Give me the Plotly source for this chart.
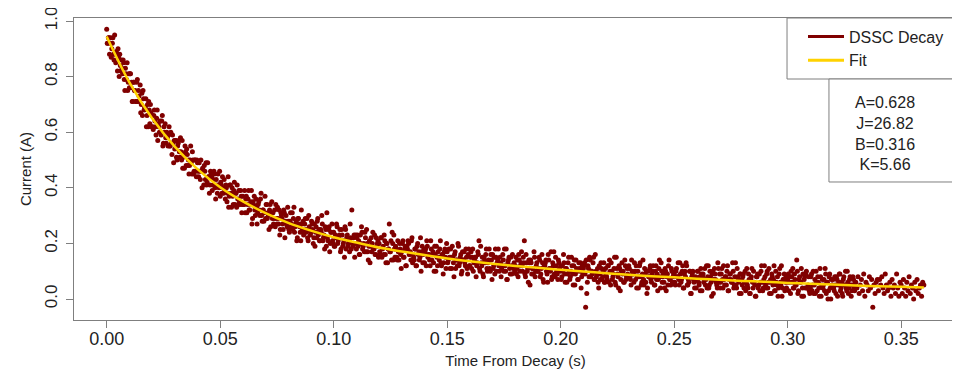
import plotly.graph_objects as go

# ---------------- data ----------------
sample_interval_s = 0.0005  # spacing of the samples on the main grid
half_step_s = 0.00025       # offset of the interleaved samples

# measured DSSC current (A) on the main grid, one row per 10 ms (0 ... 0.36 s)
current_a_grid = [
    .97, .92, .94, .92, .87, .92, .88, .95, .85, .88, .90, .80, .84, .86, .81, .85, .75, .81, .85, .78,
    .76, .81, .78, .71, .78, .75, .71, .79, .75, .71, .67, .74, .75, .68, .69, .62, .70, .71, .63, .67,
    .66, .61, .68, .62, .65, .57, .62, .64, .59, .66, .56, .60, .58, .60, .55, .62, .55, .56, .59, .49,
    .54, .57, .50, .56, .53, .58, .50, .47, .52, .55, .48, .52, .50, .48, .55, .45, .50, .46, .50, .44,
    .49, .44, .46, .50, .40, .46, .48, .43, .41, .49, .44, .41, .45, .39, .43, .45, .36, .41, .45, .40,
    .37, .41, .44, .38, .39, .41, .35, .44, .37, .41, .33, .37, .39, .34, .38, .41, .34, .35, .39, .31,
    .37, .34, .31, .37, .34, .39, .32, .35, .27, .35, .37, .30, .33, .31, .35, .30, .38, .28, .32, .31,
    .29, .34, .31, .25, .34, .31, .29, .27, .32, .34, .27, .29, .32, .25, .30, .27, .32, .22, .30, .26,
    .28, .24, .31, .27, .25, .33, .26, .28, .22, .29, .26, .21, .27, .28, .24, .29, .24, .22, .30, .25,
    .24, .27, .20, .27, .24, .22, .29, .25, .21, .24, .27, .22, .18, .25, .31, .21, .26, .20, .24, .21,
    .24, .19, .22, .26, .21, .23, .17, .25, .19, .21, .26, .18, .23, .20, .17, .22, .32, .19, .23, .20,
    .18, .23, .21, .16, .20, .24, .19, .17, .22, .25, .17, .19, .13, .22, .20, .18, .23, .16, .19, .21,
    .20, .16, .22, .18, .16, .21, .13, .20, .18, .27, .17, .14, .20, .23, .15, .18, .14, .17, .20, .16,
    .17, .21, .15, .19, .12, .18, .20, .16, .14, .22, .16, .14, .18, .12, .20, .17, .15, .10, .19, .16,
    .13, .18, .21, .15, .16, .12, .18, .16, .13, .19, .10, .15, .17, .14, .21, .12, .16, .13, .18, .11,
    .17, .14, .15, .18, .11, .15, .08, .17, .14, .12, .19, .13, .16, .10, .14, .17, .12, .15, .09, .18,
    .12, .17, .15, .10, .14, .15, .12, .17, .21, .10, .13, .15, .08, .14, .16, .11, .13, .18, .10, .14,
    .16, .12, .09, .15, .13, .18, .10, .13, .11, .16, .10, .12, .18, .07, .14, .11, .15, .09, .12, .13,
    .12, .09, .14, .16, .10, .13, .12, .15, .21, .08, .13, .11, .14, .05, .13, .11, .09, .15, .10, .13,
    .10, .15, .08, .11, .13, .06, .12, .14, .09, .16, .11, .10, .07, .13, .17, .08, .12, .09, .14, .11,
    .12, .08, .10, .13, .06, .11, .09, .15, .07, .10, .12, .05, .14, .09, .11, .07, .13, .10, .04, .12,
    .11, .13, -.03, .02, .12, .08, .14, .10, .09, .15, .07, .10, .09, .06, .12, .07, .11, .08, .13, .06,
    .09, .07, .12, .14, .05, .10, .08, .11, .06, .15, .09, .04, .11, .07, .13, .10, .06, .12, .08, .09,
    .12, .08, .05, .10, .09, .13, .07, .04, .10, .08, .13, .05, .09, .07, .11, .06, .02, .10, .08, .12,
    .06, .10, .08, .05, .12, .09, .07, .14, .04, .10, .08, .06, .11, .03, .09, .12, .07, .05, .10, .08,
    .09, .05, .11, .08, .07, .13, .06, .10, .04, .09, .08, .12, .05, .06, .10, .02, .09, .07, .04, .08,
    .07, .10, .05, .03, .09, .08, .06, .11, .07, .04, .12, .05, .08, .01, .10, .07, .09, .06, .04, .11,
    .09, .06, .11, .04, .07, .08, .05, .12, .03, .09, .07, .06, .10, .05, .13, .04, .08, .06, .09, .02,
    .05, .09, .06, .03, .11, .04, .07, .02, .08, .06, .10, .05, .01, .08, .04, .09, .06, .12, .03, .07,
    .08, .04, .10, .06, .02, .07, .09, .05, .12, .03, .06, .08, .04, .11, .05, .01, .07, .09, .06, .04,
    .07, .03, .08, .10, .06, .04, .09, .05, .14, .02, .07, .06, .11, .04, .01, .08, .09, .04, .05, .03,
    .04, .09, .05, .02, .07, .10, .03, .06, .01, .08, .05, .04, .07, .11, .02, .06, .03, .09, .00, .05,
    .07, .03, .05, .08, .01, .06, .09, .04, .02, .07, .05, .10, .03, .06, .04, .08, .01, .05, .07, .03,
    .06, .04, .08, .02, .05, .07, .03, .09, .01, .06, .05, .03, .08, .04, .07, -.03, .05, .02, .06, .07,
    .03, .07, .05, .08, .04, .02, .09, .05, .03, .04, .06, .01, .07, .04, .05, .02, .09, .04, .01, .06,
    .05, .02, .07, .04, .01, .06, .03, .08, .02, .05, .04, .00, .06, .03, .07, .02, .04, .05, .01, .06,
    .05,
]

# interleaved samples (half a step later), denser part of the record (0 ... 0.33 s)
current_a_half = [
    .92, .94, .88, .94, .90, .94, .86, .88, .89, .82, .87, .88, .82, .83, .86, .79, .83, .79, .75, .81,
    .81, .76, .71, .78, .75, .71, .78, .71, .73, .77, .70, .66, .72, .69, .72, .66, .62, .68, .70, .62,
    .62, .66, .64, .59, .68, .63, .60, .60, .64, .55, .62, .63, .56, .58, .59, .55, .60, .52, .56, .57,
    .57, .51, .55, .57, .51, .53, .57, .51, .47, .53, .54, .48, .45, .50, .49, .53, .45, .50, .46, .50,
    .46, .49, .43, .46, .47, .41, .46, .49, .42, .44, .38, .46, .44, .41, .46, .40, .43, .38, .41, .46,
    .42, .38, .40, .43, .36, .40, .38, .33, .41, .38, .40, .34, .42, .38, .33, .36, .39, .34, .37, .34,
    .34, .39, .36, .31, .36, .32, .34, .39, .29, .34, .32, .36, .27, .34, .32, .36, .30, .32, .28, .37,
    .34, .29, .30, .32, .26, .35, .31, .29, .26, .29, .33, .27, .23, .31, .29, .25, .31, .28, .27, .33,
    .25, .28, .26, .31, .29, .24, .27, .21, .29, .27, .24, .32, .25, .23, .27, .25, .29, .21, .26, .23,
    .28, .25, .22, .19, .26, .28, .23, .21, .25, .30, .21, .23, .26, .19, .22, .25, .17, .24, .27, .20,
    .19, .23, .27, .20, .22, .25, .18, .23, .20, .15, .25, .22, .19, .21, .27, .18, .20, .22, .15, .23,
    .22, .19, .16, .23, .26, .18, .20, .24, .17, .20, .14, .21, .19, .17, .24, .18, .16, .22, .20, .15,
    .17, .22, .15, .19, .23, .16, .20, .13, .18, .17, .21, .24, .14, .18, .19, .15, .21, .14, .18, .11,
    .20, .15, .18, .12, .19, .21, .16, .17, .21, .13, .15, .18, .12, .19, .16, .14, .22, .17, .13, .18,
    .17, .12, .19, .16, .14, .21, .14, .17, .10, .16, .19, .12, .15, .18, .13, .16, .09, .17, .15, .20,
    .13, .18, .11, .15, .19, .13, .16, .11, .14, .20, .12, .15, .09, .17, .14, .13, .18, .11, .16, .12,
    .15, .11, .18, .13, .15, .08, .13, .16, .11, .19, .12, .09, .15, .13, .18, .10, .14, .11, .16, .07,
    .11, .15, .18, .10, .14, .12, .15, .08, .12, .14, .18, .10, .07, .13, .15, .09, .12, .16, .11, .10,
    .15, .11, .08, .14, .12, .17, .10, .13, .09, .16, .10, .06, .13, .14, .09, .11, .17, .08, .12, .10,
    .11, .14, .09, .16, .07, .12, .13, .10, .06, .14, .11, .17, .08, .12, .09, .15, .10, .07, .13, .10,
    .07, .12, .16, .09, .11, .06, .13, .10, .08, .15, .09, .12, .05, .14, .10, .07, .11, .13, .08, .09,
    .12, .09, .14, .06, .11, .15, .08, .10, .13, .07, .16, .08, .11, .04, .09, .13, .07, .10, .06, .11,
    .08, .12, .06, .10, .13, .07, .09, .15, .05, .11, .08, .12, .03, .10, .09, .06, .14, .07, .11, .08,
    .11, .07, .14, .09, .06, .10, .12, .08, .04, .12, .08, .06, .14, .05, .09, .10, .04, .08, .11, .07,
    .09, .12, .05, .10, .07, .03, .11, .08, .13, .06, .09, .04, .10, .08, .05, .14, .07, .11, .06, .09,
    .06, .10, .08, .13, .05, .09, .07, .12, .04, .10, .13, .05, .07, .10, .02, .08, .10, .06, .07, .04,
    .10, .06, .08, .11, .03, .09, .07, .05, .12, .08, .04, .10, .06, .09, .02, .11, .07, .05, .13, .06,
    .04, .09, .07, .12, .05, .08, .10, .03, .07, .09, .06, .13, .04, .08, .05, .11, .07, .02, .09, .07,
    .08, .04, .10, .06, .05, .09, .02, .07, .11, .04, .06, .01, .08, .09, .05, .03, .10, .06, .04, .12,
    .05, .09, .04, .11, .06, .02, .08, .07, .03, .10, .05, .01, .09, .06, .12, .04, .07, .03, .08, .06,
    .09, .06, .02, .08, .11, .04, .07, .05, .10, .03, .08, .06, .01, .09, .07, .04, .10, .04, .08, .02,
    .08, .03, .10, .05, .02, .06, .08, .04, .11, .01, .07, .05, .03, .09, .06, .00, .08, .04, .07, .05,
    .04, .08, .02, .07, .05, .09, .03, .06, .01, .08, .05, .04, .10, .02, .07, .05, .03, .08, .04, .06,
]

t_grid = [round(i * sample_interval_s, 5) for i in range(len(current_a_grid))]
t_half = [round(half_step_s + i * sample_interval_s, 5) for i in range(len(current_a_half))]
time_s, current_a = zip(*sorted(zip(t_grid + t_half, current_a_grid + current_a_half)))

# fitted curve (yellow line) read every 10 ms
fit_time_s = [0.00, 0.01, 0.02, 0.03, 0.04, 0.05, 0.06, 0.07, 0.08, 0.09,
              0.10, 0.11, 0.12, 0.13, 0.14, 0.15, 0.16, 0.17, 0.18, 0.19,
              0.20, 0.21, 0.22, 0.23, 0.24, 0.25, 0.26, 0.27, 0.28, 0.29,
              0.30, 0.31, 0.32, 0.33, 0.34, 0.35, 0.36]
fit_current_a = [0.944, 0.779, 0.650, 0.548, 0.467, 0.402, 0.351, 0.309, 0.274, 0.246,
                 0.222, 0.203, 0.185, 0.171, 0.158, 0.146, 0.136, 0.127, 0.119, 0.112,
                 0.105, 0.099, 0.093, 0.087, 0.082, 0.078, 0.073, 0.069, 0.065, 0.062,
                 0.058, 0.055, 0.052, 0.049, 0.046, 0.044, 0.041]

fit_params = ["A=0.628", "J=26.82", "B=0.316", "K=5.66"]
series_names = ["DSSC Decay", "Fit"]

x_tick_vals = [0.00, 0.05, 0.10, 0.15, 0.20, 0.25, 0.30, 0.35]
x_tick_text = ["0.00", "0.05", "0.10", "0.15", "0.20", "0.25", "0.30", "0.35"]
y_tick_vals = [0.0, 0.2, 0.4, 0.6, 0.8, 1.0]
y_tick_text = ["0.0", "0.2", "0.4", "0.6", "0.8", "1.0"]

# ---------------- styling ----------------
FONT = "Liberation Sans, Arial, sans-serif"
MAROON = "#800000"
GOLD = "#FFD200"
AXIS_GRAY = "#7f7f7f"
TEXT = "#222222"

fig = go.Figure()
fig.add_trace(go.Scatter(
    x=list(time_s), y=list(current_a), mode="markers", name=series_names[0],
    marker=dict(color=MAROON, size=5, line=dict(width=0)),
    showlegend=False,
))
fig.add_trace(go.Scatter(
    x=fit_time_s, y=fit_current_a, mode="lines", name=series_names[1],
    line=dict(color=GOLD, width=2.5, shape="spline"),
    showlegend=False,
))
# legend keys drawn as lines, like the original
fig.add_trace(go.Scatter(x=[None], y=[None], mode="lines", name=series_names[0],
                         line=dict(color=MAROON, width=3)))
fig.add_trace(go.Scatter(x=[None], y=[None], mode="lines", name=series_names[1],
                         line=dict(color=GOLD, width=3)))

axis_common = dict(
    ticks="outside", ticklen=7, tickwidth=1, tickcolor=AXIS_GRAY,
    showline=True, linecolor=AXIS_GRAY, linewidth=1, mirror=True,
    showgrid=False, zeroline=False, ticklabeloverflow="allow", automargin=False,
)

# the page body adds an 8 px offset, so the figure is 8 px smaller than the window
fig.update_layout(
    width=952, height=361,
    margin=dict(l=66, r=3, t=10, b=49, autoexpand=False),
    paper_bgcolor="white", plot_bgcolor="white",
    font=dict(family=FONT, color=TEXT),
    xaxis=dict(
        range=[-0.0144, 0.3746], tickvals=x_tick_vals, ticktext=x_tick_text,
        tickfont=dict(size=18, color=TEXT), ticklabelstandoff=-5,
        title=dict(text="Time From Decay (s)", font=dict(size=15, color=TEXT), standoff=9),
        **axis_common,
    ),
    yaxis=dict(
        range=[-0.0755, 1.0108], tickvals=y_tick_vals, ticktext=y_tick_text,
        tickangle=-90, tickfont=dict(size=17, color=TEXT), ticklabelstandoff=2,
        title=dict(text="Current (A)", font=dict(size=15, color=TEXT), standoff=6),
        **axis_common,
    ),
    legend=dict(
        x=0.8256, y=0.995, xanchor="left", yanchor="top",
        bgcolor="rgba(0,0,0,0)", borderwidth=0, itemwidth=36,
        font=dict(size=16, color=TEXT), tracegroupgap=0,
    ),
    shapes=[
        dict(type="rect", xref="paper", yref="paper", x0=0.8075, x1=1.0, y0=0.798, y1=1.0,
             line=dict(color=AXIS_GRAY, width=1), fillcolor="white", layer="above"),
        dict(type="rect", xref="paper", yref="paper", x0=0.855, x1=1.0, y0=0.457, y1=0.798,
             line=dict(color=AXIS_GRAY, width=1), fillcolor="white", layer="above"),
    ],
    annotations=[
        dict(text="<br>".join(fit_params), xref="paper", yref="paper",
             x=0.918, y=0.617, xanchor="center", yanchor="middle", align="center",
             showarrow=False, font=dict(size=16, color=TEXT)),
    ],
)

fig.write_html("out.html")
